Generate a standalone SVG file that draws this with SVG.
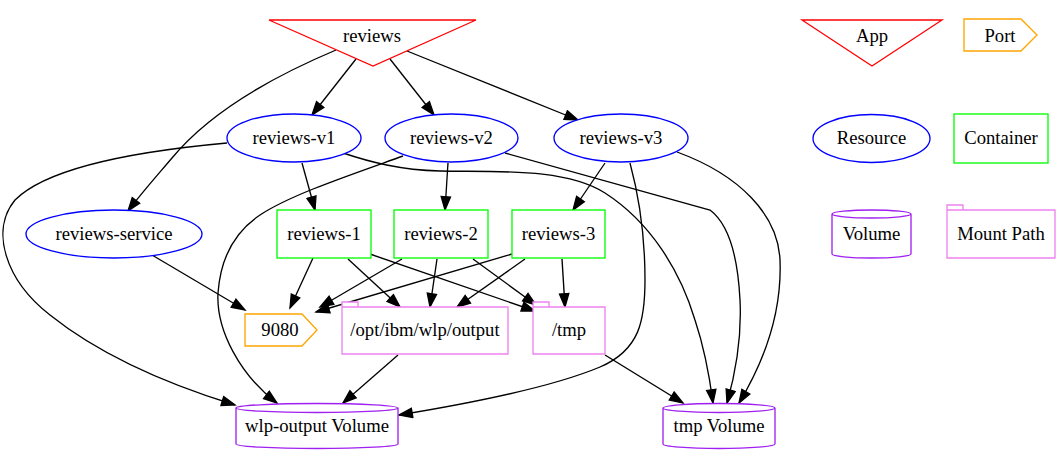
<svg xmlns="http://www.w3.org/2000/svg" width="1060" height="456" viewBox="0 0 1060 456">
<style>
text{font-family:"Liberation Serif","Times New Roman",serif;font-size:18.67px;text-anchor:middle;fill:#000}
.app{fill:#fff;stroke:#ff0000;stroke-width:1.33}
.res{fill:#fff;stroke:#0000ff;stroke-width:1.33}
.ctr{fill:#fff;stroke:#00ff00;stroke-width:1.33}
.vol{fill:#fff;stroke:#a020f0;stroke-width:1.33}
.mnt{fill:#fff;stroke:#ee82ee;stroke-width:1.33}
.port{fill:#fff;stroke:#ffa500;stroke-width:1.33}
.edge path{fill:none;stroke:#000;stroke-width:1.33;marker-end:url(#arr)}
</style>
<defs>
<marker id="arr" markerUnits="userSpaceOnUse" markerWidth="16" markerHeight="12" refX="13.3" refY="4.7" orient="auto" viewBox="-1 -1 16 12">
<path d="M0,0 L13.3,4.7 L0,9.4 Z" fill="#000" stroke="#000" stroke-width="1.33"/>
</marker>
</defs>
<rect width="1060" height="456" fill="#fff"/>
<g id="edges" class="edge">
<path d="M356,59 L312,115"/>
<path d="M390,59 L434,115"/>
<path d="M407,51 L578,120"/>
<path d="M336,50 C260,82 205,118 172,158 C155,178 140,195 128,211"/>
<path d="M302,163 L315,210"/>
<path d="M448,163 L445,210"/>
<path d="M605,163 L573,210"/>
<path d="M227,143 C150,150 50,165 15,200 C-10,230 5,280 50,315 C100,355 170,385 235,405"/>
<path d="M343,153 C370,162 400,170 440,171 C500,172 565,168 605,193 C650,222 680,270 695,320 C705,350 710,380 713,403"/>
<path d="M403,156 C350,175 290,195 260,215 C230,235 220,265 218,293 C216,330 240,375 277,403"/>
<path d="M505,153 L710,210 C730,225 738,260 740,300 C742,340 735,375 727,403"/>
<path d="M630,163 C640,200 645,240 645,280 C645,320 640,350 600,367 C550,388 460,405 399,415"/>
<path d="M677,152 C740,175 778,215 780,260 C782,310 765,360 739,403"/>
<path d="M152,255 L245,310"/>
<path d="M313,258 L290,308"/>
<path d="M402,259 L320,307"/>
<path d="M512,254 L316,312"/>
<path d="M348,259 L400,307"/>
<path d="M370,254 L535,311"/>
<path d="M437,259 L430,307"/>
<path d="M473,259 L536,305"/>
<path d="M525,259 L457,307"/>
<path d="M562,259 L565,307"/>
<path d="M398,355 L343,403"/>
<path d="M605,355 L683,403"/>
</g>
<g id="reviews"><polygon class="app" points="269,20 476,20 373,66"/><text x="372" y="42">reviews</text></g>
<g id="legend-app"><polygon class="app" points="802,20 942,20 872,66"/><text x="872" y="42">App</text></g>
<g id="legend-port"><polygon class="port" points="964,19 1021,19 1037,35 1021,51 964,51"/><text x="1000" y="42">Port</text></g>
<g id="reviews-v1"><ellipse class="res" cx="294" cy="138" rx="67" ry="24"/><text x="294" y="144">reviews-v1</text></g>
<g id="reviews-v2"><ellipse class="res" cx="451.5" cy="138" rx="66.5" ry="24"/><text x="451.5" y="144">reviews-v2</text></g>
<g id="reviews-v3"><ellipse class="res" cx="621" cy="138" rx="67" ry="24"/><text x="621" y="144">reviews-v3</text></g>
<g id="legend-resource"><ellipse class="res" cx="871.5" cy="138.5" rx="58.5" ry="24"/><text x="871.5" y="144">Resource</text></g>
<g id="legend-container"><rect class="ctr" x="954" y="114" width="94" height="49"/><text x="1001" y="144">Container</text></g>
<g id="reviews-service"><ellipse class="res" cx="114" cy="234" rx="88" ry="24"/><text x="114" y="240">reviews-service</text></g>
<g id="reviews-1"><rect class="ctr" x="277" y="210" width="94" height="48"/><text x="324" y="240">reviews-1</text></g>
<g id="reviews-2"><rect class="ctr" x="394" y="210" width="94" height="48"/><text x="441" y="240">reviews-2</text></g>
<g id="reviews-3"><rect class="ctr" x="512" y="210" width="93" height="48"/><text x="558.5" y="240">reviews-3</text></g>
<g id="legend-volume"><path class="vol" d="M832,214 A39.5,4 0 0 1 911,214 L911,254 A39.5,4 0 0 1 832,254 Z M832,214 A39.5,4 0 0 0 911,214"/><text x="871.5" y="240">Volume</text></g>
<g id="legend-mount"><path class="mnt" d="M947,210 L947,205 L963,205 L963,210 M947,210 L1055,210 L1055,258 L947,258 Z"/><text x="1001" y="240">Mount Path</text></g>
<g id="port-9080"><polygon class="port" points="245,314 302,314 317,330 302,346 245,346"/><text x="280" y="336">9080</text></g>
<g id="mount-opt"><path class="mnt" d="M342,307 L342,302 L358,302 L358,307 M342,307 L508,307 L508,354 L342,354 Z"/><text x="425" y="336">/opt/ibm/wlp/output</text></g>
<g id="mount-tmp"><path class="mnt" d="M533,307 L533,302 L549,302 L549,307 M533,307 L605,307 L605,354 L533,354 Z"/><text x="569" y="336">/tmp</text></g>
<g id="vol-wlp"><path class="vol" d="M236,408 A81,4.5 0 0 1 398,408 L398,444 A81,4.5 0 0 1 236,444 Z M236,408 A81,4.5 0 0 0 398,408"/><text x="317" y="432">wlp-output Volume</text></g>
<g id="vol-tmp"><path class="vol" d="M663,408 A56,4.5 0 0 1 775,408 L775,444 A56,4.5 0 0 1 663,444 Z M663,408 A56,4.5 0 0 0 775,408"/><text x="719" y="432">tmp Volume</text></g>
</svg>
